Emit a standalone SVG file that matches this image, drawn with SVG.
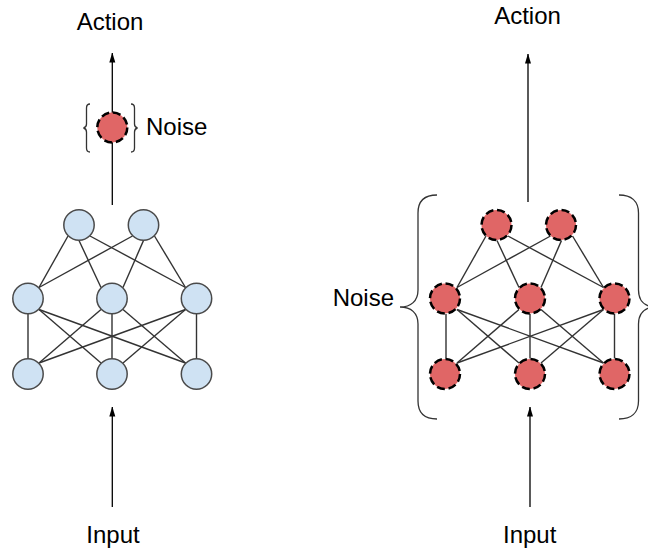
<svg xmlns="http://www.w3.org/2000/svg" width="648" height="552" viewBox="0 0 648 552">
<style>
text{font-family:"Liberation Sans",Arial,sans-serif;font-size:24px;fill:#000}
.edge{stroke:#333;stroke-width:1.4;fill:none}
.arrow{stroke:#000;stroke-width:1.3;fill:none}
.brace{stroke:#333;stroke-width:1.3;fill:none}
.blue{fill:#cfe2f3;stroke:#4a4a4a;stroke-width:1.5}
.red{fill:#e06666;stroke:#000;stroke-width:2.5;stroke-dasharray:8 3.8}
</style>
<defs>
<marker id="ah" markerUnits="userSpaceOnUse" markerWidth="10" markerHeight="7" refX="9.5" refY="3" orient="auto">
<path d="M0,0 L10,3 L0,6 z" fill="#000"/>
</marker>
</defs>
<rect width="648" height="552" fill="#fff"/>
<g id="connectors">
<line class="arrow" x1="112.3" y1="205" x2="112.3" y2="53" marker-end="url(#ah)"/>
<line class="arrow" x1="112.3" y1="507" x2="112.3" y2="407" marker-end="url(#ah)"/>
<line class="arrow" x1="528" y1="202" x2="528" y2="54" marker-end="url(#ah)"/>
<line class="arrow" x1="530" y1="507" x2="530" y2="407" marker-end="url(#ah)"/>
<g id="left-edges">
<line class="edge" x1="68" y1="236" x2="39" y2="287.5"/>
<line class="edge" x1="79" y1="240.5" x2="101" y2="287.5"/>
<line class="edge" x1="90" y1="236" x2="185.5" y2="287.5"/>
<line class="edge" x1="132.5" y1="236" x2="39" y2="287.5"/>
<line class="edge" x1="143.5" y1="240.5" x2="123" y2="287.5"/>
<line class="edge" x1="154.5" y1="236" x2="185.5" y2="287.5"/>
<line class="edge" x1="28" y1="314" x2="28" y2="358.5"/>
<line class="edge" x1="39" y1="309.5" x2="101" y2="363"/>
<line class="edge" x1="39" y1="309.5" x2="185.5" y2="363"/>
<line class="edge" x1="101" y1="309.5" x2="39" y2="363"/>
<line class="edge" x1="112" y1="314" x2="112" y2="358.5"/>
<line class="edge" x1="123" y1="309.5" x2="185.5" y2="363"/>
<line class="edge" x1="185.5" y1="309.5" x2="39" y2="363"/>
<line class="edge" x1="185.5" y1="309.5" x2="123" y2="363"/>
<line class="edge" x1="196.5" y1="314" x2="196.5" y2="358.5"/>
</g>
<g id="right-edges">
<line class="edge" x1="486" y1="236" x2="457" y2="287.5"/>
<line class="edge" x1="497" y1="240.5" x2="519" y2="287.5"/>
<line class="edge" x1="508" y1="236" x2="603.5" y2="287.5"/>
<line class="edge" x1="550.5" y1="236" x2="457" y2="287.5"/>
<line class="edge" x1="561.5" y1="240.5" x2="541" y2="287.5"/>
<line class="edge" x1="572.5" y1="236" x2="603.5" y2="287.5"/>
<line class="edge" x1="446" y1="314" x2="446" y2="358.5"/>
<line class="edge" x1="457" y1="309.5" x2="519" y2="363"/>
<line class="edge" x1="457" y1="309.5" x2="603.5" y2="363"/>
<line class="edge" x1="519" y1="309.5" x2="457" y2="363"/>
<line class="edge" x1="530" y1="314" x2="530" y2="358.5"/>
<line class="edge" x1="541" y1="309.5" x2="603.5" y2="363"/>
<line class="edge" x1="603.5" y1="309.5" x2="457" y2="363"/>
<line class="edge" x1="603.5" y1="309.5" x2="541" y2="363"/>
<line class="edge" x1="614.5" y1="314" x2="614.5" y2="358.5"/>
</g>
</g>
<g id="braces">
<path class="brace" d="M90,104 C87.5,104 86.5,105.5 86.5,108 L86.5,124 C86.5,126.5 85.5,127.5 83.5,128 C85.5,128.5 86.5,129.5 86.5,132 L86.5,148 C86.5,150.5 87.5,152 90,152"/>
<path class="brace" d="M131,104 C133.5,104 134.5,105.5 134.5,108 L134.5,124 C134.5,126.5 135.5,127.5 137.5,128 C135.5,128.5 134.5,129.5 134.5,132 L134.5,148 C134.5,150.5 133.5,152 131,152"/>
<path class="brace" d="M437,195 C425,195 418,201 418,213 L418,290 C418,301 411,307 400,307 C411,307 418,313 418,324 L418,401 C418,413 425,419 437,419"/>
<path class="brace" d="M619,195 C631,195 638.5,201 638.5,213 L638.5,290 C638.5,301 645,307 656,307 C645,307 638.5,313 638.5,324 L638.5,401 C638.5,413 631,419 619,419"/>
</g>
<g id="noise-node"><circle class="red" cx="112.3" cy="127.5" r="15"/></g>
<g id="left-T1"><circle class="blue" cx="79" cy="225" r="15.2"/></g>
<g id="left-T2"><circle class="blue" cx="143.5" cy="225" r="15.2"/></g>
<g id="left-M1"><circle class="blue" cx="28" cy="298.5" r="15.2"/></g>
<g id="left-M2"><circle class="blue" cx="112" cy="298.5" r="15.2"/></g>
<g id="left-M3"><circle class="blue" cx="196.5" cy="298.5" r="15.2"/></g>
<g id="left-B1"><circle class="blue" cx="28" cy="374" r="15.2"/></g>
<g id="left-B2"><circle class="blue" cx="112" cy="374" r="15.2"/></g>
<g id="left-B3"><circle class="blue" cx="196.5" cy="374" r="15.2"/></g>
<g id="right-T1"><circle class="red" cx="496.5" cy="225" r="15"/></g>
<g id="right-T2"><circle class="red" cx="561" cy="225" r="15"/></g>
<g id="right-M1"><circle class="red" cx="445" cy="298.5" r="15"/></g>
<g id="right-M2"><circle class="red" cx="530" cy="298.5" r="15"/></g>
<g id="right-M3"><circle class="red" cx="614.5" cy="298.5" r="15"/></g>
<g id="right-B1"><circle class="red" cx="445" cy="374" r="15"/></g>
<g id="right-B2"><circle class="red" cx="530" cy="374" r="15"/></g>
<g id="right-B3"><circle class="red" cx="614.5" cy="374" r="15"/></g>
<g id="labels">
<text x="110" y="30" text-anchor="middle">Action</text>
<text x="527.5" y="24" text-anchor="middle">Action</text>
<text x="146" y="135">Noise</text>
<text x="394" y="306" text-anchor="end">Noise</text>
<text x="113" y="543" text-anchor="middle">Input</text>
<text x="529.7" y="543" text-anchor="middle">Input</text>
</g>
</svg>
